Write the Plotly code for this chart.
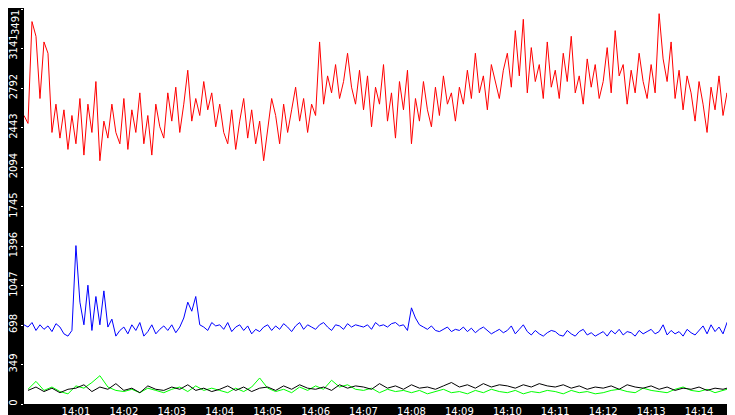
import plotly.graph_objects as go
import pandas as pd

red = [2550,
2480,3380,3250,2700,3200,3100,2400,2650,2350,2600,2250,2550,
2300,2700,2200,2650,2400,2850,2150,2500,2350,2650,2400,2300,
2700,2250,2600,2400,2750,2300,2550,2200,2650,2450,2350,2750,
2500,2800,2400,2650,2950,2500,2700,2550,2850,2600,2750,2450,
2650,2400,2300,2600,2250,2500,2700,2350,2600,2300,2500,2150,
2450,2700,2550,2300,2650,2400,2600,2800,2500,2700,2400,2650,
2550,3200,2650,2900,2750,3000,2700,2850,3100,2800,2650,2950,
2600,2900,2450,2800,2650,3000,2500,2750,2350,2850,2600,2950,
2300,2700,2500,2850,2600,2450,2800,2550,2900,2650,2750,2500,
2800,2650,2950,2700,3100,2750,2900,2600,3000,2850,2700,2950,
3100,2800,3300,2900,3400,2750,3150,2850,3000,2700,3200,2800,
2950,2700,3100,2850,3250,2750,2900,2650,3050,2800,3000,2700,
2850,3150,2750,3300,2900,3000,2650,2950,2750,3100,2850,2700,
3000,2750,3450,3050,2850,3200,2700,2950,2600,2900,2750,2500,
2850,2650,2400,2800,2600,2900,2550,2750,2450,2700,2850,2300]

blue = [700,
680,720,650,700,660,690,640,710,680,620,600,650,
1400,900,700,1050,650,950,700,1000,680,750,600,650,
680,620,700,650,720,600,640,700,620,660,690,650,
700,630,680,760,900,820,950,700,680,650,720,690,
700,660,720,640,680,700,650,690,620,660,640,680,
700,650,690,660,710,680,640,690,720,660,700,680,
660,700,720,680,650,700,690,660,710,680,700,690,
680,700,660,720,690,700,680,710,720,690,700,650,
850,760,700,680,660,690,650,640,660,680,640,660,
650,680,640,670,630,660,680,650,620,640,660,630,
650,690,620,660,700,640,610,650,620,600,630,650,
640,610,600,650,620,600,640,660,610,630,600,620,
640,600,650,620,660,610,640,630,600,650,620,640,
660,620,640,700,610,650,620,640,600,660,630,610,
650,690,620,700,640,680,620,720,650,690,630,650]

black = [120,150,110,140,100,130,
140,170,110,150,130,180,
120,140,100,160,130,120,
150,130,170,120,140,110,
130,160,120,150,110,140,
150,120,160,130,170,140,
130,150,120,170,140,160,
150,130,180,140,160,130,
170,140,150,130,160,190,
150,170,140,180,150,170,
160,140,170,150,180,160,
150,170,140,160,130,150,
140,160,130,170,150,140,
160,130,150,120,140,130,
150,120,140,130,150,120,130]

green = [130,200,120,150,110,90,
160,140,190,250,150,120,
110,130,100,140,120,100,
130,150,110,160,120,140,
120,100,140,110,150,230,
140,110,130,100,150,120,
160,130,210,150,170,130,
120,140,100,130,110,120,
100,120,90,110,130,100,
110,90,120,100,130,110,
100,120,90,110,100,120,
110,90,120,100,110,90,
100,120,130,110,100,140,
120,110,100,130,150,120,
110,130,100,120,140,110,120]

ytick_vals = [0,349,698,1047,1396,1745,2094,2443,2792,3141,3491]
xtick_labels = ["14:01","14:02","14:03","14:04","14:05","14:06","14:07","14:08",
                "14:09","14:10","14:11","14:12","14:13","14:14","14:15"]

t5 = pd.date_range("2024-01-01 13:59:55", periods=len(red), freq="5s")
t10 = pd.date_range("2024-01-01 14:00:00", periods=len(black), freq="10s")
xticks = pd.date_range("2024-01-01 14:01:00", periods=len(xtick_labels), freq="60s")

fig = go.Figure()
for t, y, c in [(t10, green, "#00ff00"), (t10, black, "#000000"), (t5, blue, "#0000ff"), (t5, red, "#ff0000")]:
    fig.add_trace(go.Scatter(x=t, y=y, mode="lines", line=dict(color=c, width=1), showlegend=False))

fig.update_layout(
    width=735, height=415, margin=dict(l=13, r=0, t=0, b=19),
    paper_bgcolor="black", plot_bgcolor="white",
    font=dict(family="DejaVu Sans", size=10, color="white"),
)
fig.add_annotation(x=0, xref="paper", xanchor="right", xshift=-1, y=1, yref="paper", yanchor="top",
                   text=str(ytick_vals[-1]), textangle=-90, showarrow=False,
                   font=dict(size=10, color="white"))
fig.update_xaxes(range=[pd.Timestamp("2024-01-01 13:59:55"), pd.Timestamp("2024-01-01 14:14:55")],
                 tickvals=xticks, ticktext=xtick_labels, showgrid=False, zeroline=False,
                 ticks="", ticklabelstandoff=0, tickfont=dict(size=10, color="white"))
fig.update_yaxes(range=[0, 3500], tickvals=ytick_vals, ticktext=[str(v) for v in ytick_vals],
                 tickangle=-90, showgrid=False, zeroline=False,
                 ticks="outside", ticklen=2, tickcolor="white", tickfont=dict(size=10, color="white"))
fig.write_html("out.html")
